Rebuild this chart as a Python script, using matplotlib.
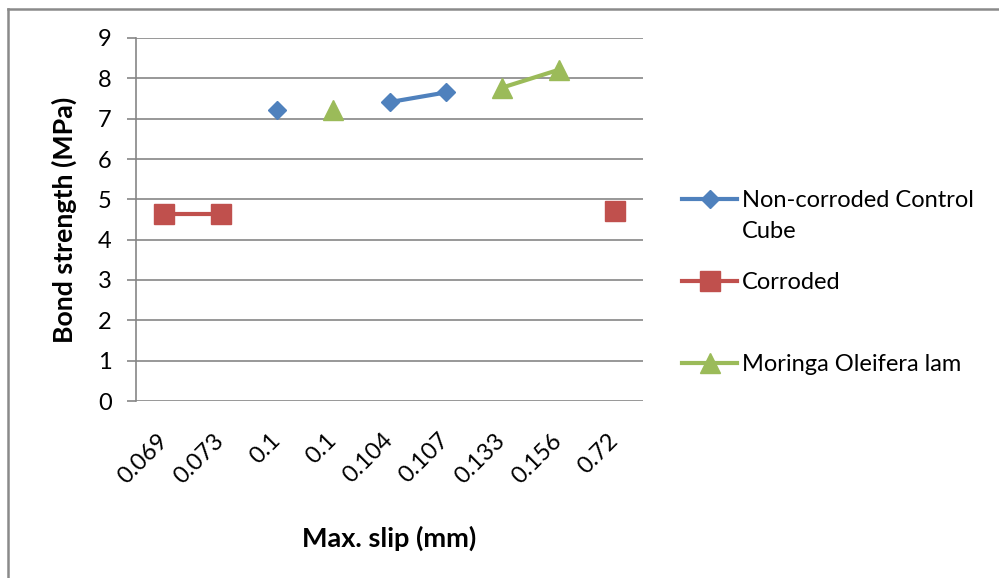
import numpy as np
import matplotlib
matplotlib.use('Agg')
import matplotlib.pyplot as plt
from matplotlib.lines import Line2D

plt.rcParams['font.family'] = ['Lato', 'DejaVu Sans']

# category axis labels (Excel line chart, so evenly spaced)
slip = ['0.069', '0.073', '0.1', '0.1', '0.104', '0.107', '0.133', '0.156', '0.72']

# bond strength (MPa) per series, nan where the series has no point
control = [np.nan, np.nan, 7.21, np.nan, 7.41, 7.65, np.nan, np.nan, np.nan]
corroded = [4.64, 4.64, np.nan, np.nan, np.nan, np.nan, np.nan, np.nan, 4.70]
moringa = [np.nan, np.nan, np.nan, 7.22, np.nan, np.nan, 7.77, 8.21, np.nan]

blue = '#4F81BD'
red = '#C0504D'
green = '#9BBB59'
grid_col = '#868686'

fig = plt.figure(figsize=(9.99, 5.78), dpi=100)
ax = fig.add_axes([136 / 999, 1 - 401 / 578, 507 / 999, (401 - 38) / 578])

x = np.arange(len(slip))
ax.plot(x, control, color=blue, lw=3, marker='D', ms=9, label='Non-corroded Control')
ax.plot(x, corroded, color=red, lw=3, marker='s', ms=14, label='Corroded')
ax.plot(x, moringa, color=green, lw=3, marker='^', ms=14, label='Moringa Oleifera lam')

ax.set_xlim(-0.5, len(slip) - 0.5)
ax.set_ylim(0, 9)
ax.set_yticks(range(10))
ax.set_xticks(x)
ax.set_xticklabels(slip, rotation=45, ha='right', va='center', rotation_mode='anchor')
ax.yaxis.grid(True, color=grid_col, lw=1.2)
ax.set_axisbelow(True)
for s in ['top', 'right', 'bottom']:
    ax.spines[s].set_visible(False)
ax.spines['left'].set_color(grid_col)
ax.spines['left'].set_linewidth(1.2)
ax.tick_params(axis='y', length=6.5, color=grid_col, width=1.2, labelsize=17, pad=11)
ax.tick_params(axis='x', length=0, labelsize=17, pad=26)

ax.set_xlabel('Max. slip (mm)', fontsize=19.5, fontweight='bold')
ax.set_ylabel('Bond strength (MPa)', fontsize=19.3, fontweight='bold')
ax.xaxis.set_label_coords(0.5, -(526 - 401) / 363)
ax.yaxis.set_label_coords(-(136 - 77) / 507, 0.5)

leg = fig.legend(loc='upper left', bbox_to_anchor=(682 / 999, 1 - 190 / 578),
                 frameon=False, fontsize=17, handlelength=2.33, handletextpad=0.21,
                 labelspacing=2.58, borderaxespad=0, borderpad=0)
# second line of the first legend label
fig.text(742 / 999, 1 - 232 / 578, 'Cube', fontsize=17, va='center', ha='left')

# chart area border (only top and left edges show)
fig.add_artist(Line2D([8 / 999, 1], [1 - 9 / 578] * 2, color='#8A8A8A', lw=1.8,
                      transform=fig.transFigure))
fig.add_artist(Line2D([8 / 999] * 2, [1 - 9 / 578, 0], color='#8A8A8A', lw=1.8,
                      transform=fig.transFigure))

fig.savefig('out.png', dpi=100)
